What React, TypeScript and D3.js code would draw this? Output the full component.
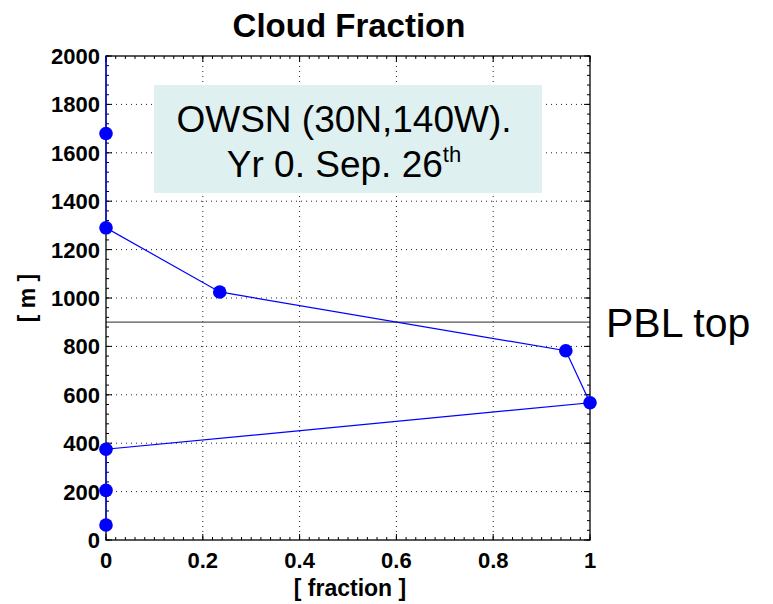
import React from "react";
import * as d3 from "d3";

const heights = [2250, 1680, 1290, 1025, 782, 567, 375, 205, 62];
const fractions = [0, 0, 0, 0.235, 0.95, 1.0, 0, 0, 0];
const xTicks = [0, 0.2, 0.4, 0.6, 0.8, 1];
const yTicks = [0, 200, 400, 600, 800, 1000, 1200, 1400, 1600, 1800, 2000];
const pblHeight = 900;
const titleText = "Cloud Fraction";
const xLabel = "[ fraction ]";
const yLabel = "[ m ]";
const boxLine1 = "OWSN (30N,140W).";
const boxLine2 = "Yr 0. Sep. 26";
const boxSup = "th";
const pblLabel = "PBL top";

export default function App() {
  const W = 773, H = 604;
  const L = 106, R = 590, T = 56, B = 540;
  const x = d3.scaleLinear().domain([0, 1]).range([L, R]);
  const y = d3.scaleLinear().domain([0, 2000]).range([B, T]);
  const pts = heights.map((h, i) => ({ h, f: fractions[i] }));
  const line = d3.line<{ h: number; f: number }>().x(d => x(d.f)).y(d => y(d.h));
  const xMinor = d3.range(0, 1.0001, 0.02);
  const yMinor = d3.range(0, 2000.1, 40);
  const font = "'Liberation Sans', Arial, sans-serif";
  return (
    <svg width={W} height={H} style={{ position: "absolute", left: 0, top: 0, background: "#fff" }} fontFamily={font}>
      <defs>
        <clipPath id="plotclip">
          <rect x={L - 10} y={T} width={R - L + 20} height={B - T} />
        </clipPath>
      </defs>
      <rect x={0} y={0} width={W} height={H} fill="#fff" />
      {xTicks.slice(1, -1).map(t => (
        <line key={"gx" + t} x1={x(t)} x2={x(t)} y1={T} y2={B} stroke="#222" strokeWidth={1} strokeDasharray="1,4" />
      ))}
      {yTicks.slice(1, -1).map(t => (
        <line key={"gy" + t} x1={L} x2={R} y1={y(t)} y2={y(t)} stroke="#222" strokeWidth={1} strokeDasharray="1,4" />
      ))}
      {xMinor.map((t, i) => (
        <g key={"xm" + i}>
          <line x1={x(t)} x2={x(t)} y1={B} y2={B - 3} stroke="#000" />
          <line x1={x(t)} x2={x(t)} y1={T} y2={T + 3} stroke="#000" />
        </g>
      ))}
      {yMinor.map((t, i) => (
        <g key={"ym" + i}>
          <line x1={L} x2={L + 3} y1={y(t)} y2={y(t)} stroke="#000" />
          <line x1={R} x2={R - 3} y1={y(t)} y2={y(t)} stroke="#000" />
        </g>
      ))}
      {xTicks.map(t => (
        <g key={"xt" + t}>
          <line x1={x(t)} x2={x(t)} y1={B} y2={B - 6} stroke="#000" />
          <line x1={x(t)} x2={x(t)} y1={T} y2={T + 6} stroke="#000" />
        </g>
      ))}
      {yTicks.map(t => (
        <g key={"yt" + t}>
          <line x1={L} x2={L + 6} y1={y(t)} y2={y(t)} stroke="#000" />
          <line x1={R} x2={R - 6} y1={y(t)} y2={y(t)} stroke="#000" />
        </g>
      ))}
      <rect x={154} y={85} width={388} height={108} fill="#dff0f0" />
      <text x={344} y={132} fontSize={37} textAnchor="middle" fill="#000">{boxLine1}</text>
      <text x={344} y={177} fontSize={37} textAnchor="middle" fill="#000">
        {boxLine2}
        <tspan fontSize={22} dy={-15}>{boxSup}</tspan>
      </text>
      <line x1={L} x2={R} y1={y(pblHeight)} y2={y(pblHeight)} stroke="#555" strokeWidth={1.2} />
      <rect x={L} y={T} width={R - L} height={B - T} fill="none" stroke="#000" strokeWidth={1.3} />
      <path d={line(pts) || ""} fill="none" stroke="#0000ff" strokeWidth={1.2} clipPath="url(#plotclip)" />
      {pts.filter(p => p.h <= 2000).map((p, i) => (
        <circle key={"c" + i} cx={x(p.f)} cy={y(p.h)} r={6.8} fill="#0000ff" />
      ))}
      {yTicks.map(t => (
        <text key={"yl" + t} x={L - 6} y={y(t) + 8} fontSize={22} fontWeight="bold" textAnchor="end">{t}</text>
      ))}
      {xTicks.map(t => (
        <text key={"xl" + t} x={x(t)} y={568} fontSize={22} fontWeight="bold" textAnchor="middle">{d3.format("~g")(t)}</text>
      ))}
      <text x={349} y={37} fontSize={33} fontWeight="bold" textAnchor="middle">{titleText}</text>
      <text x={350} y={596} fontSize={23} fontWeight="bold" textAnchor="middle">{xLabel}</text>
      <text transform={`translate(35,298) rotate(-90)`} fontSize={23} fontWeight="bold" textAnchor="middle">{yLabel}</text>
      <text x={606} y={337} fontSize={41} fill="#000">{pblLabel}</text>
    </svg>
  );
}
